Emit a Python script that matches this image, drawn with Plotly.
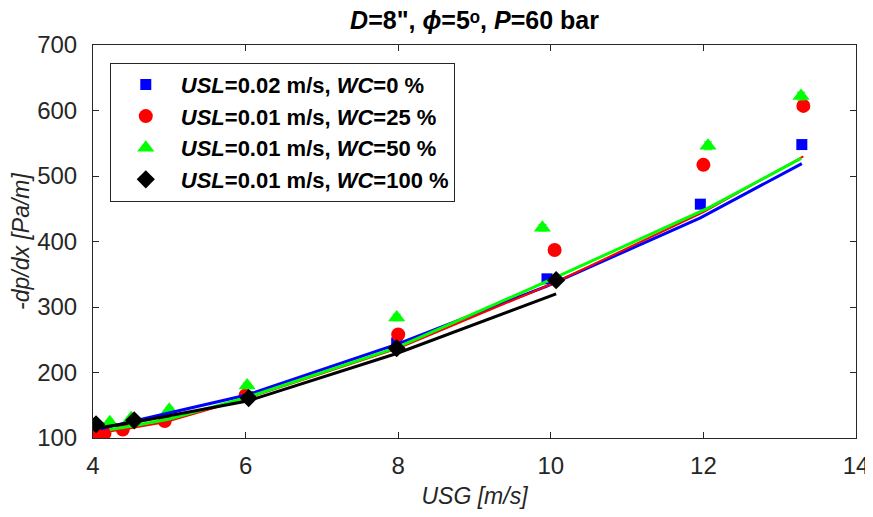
import plotly.graph_objects as go

# Measured data (markers)
usg_wc0 = [4.10, 6.03, 7.98, 9.95, 11.96, 13.29]
dpdx_wc0 = [115, 163, 245, 343, 457, 548]
err_wc0 = [4, 4, 5, 5, 6, 6]

usg_wc25 = [4.02, 4.15, 4.39, 4.94, 6.00, 8.00, 10.05, 12.00, 13.31]
dpdx_wc25 = [107, 107, 113, 126, 165, 258, 387, 517, 607]
err_wc25 = [3, 3, 3, 3, 4, 5, 5, 6, 6]

usg_wc50 = [4.22, 4.50, 5.00, 6.02, 7.98, 9.89, 12.06, 13.28]
dpdx_wc50 = [124, 130, 143, 180, 284, 421, 546, 622]
err_wc50 = [3, 3, 3, 4, 5, 5, 6, 6]

usg_wc100 = [4.04, 4.54, 6.04, 7.98, 10.07]
dpdx_wc100 = [121, 127, 161, 237, 341]
err_wc100 = [3, 3, 4, 5, 5]

# Model predictions (lines)
line_x_wc0 = [4.10, 6.03, 7.98, 9.95, 11.96, 13.29]
line_y_wc0 = [114, 166, 243, 332, 436, 519]
line_x_wc25 = [4.02, 4.15, 4.39, 4.94, 6.00, 8.00, 10.05, 12.00, 13.31]
line_y_wc25 = [107, 109, 113, 124, 160, 237, 337, 445, 530]
line_x_wc50 = [4.22, 4.50, 5.00, 6.02, 7.98, 9.89, 12.06, 13.28]
line_y_wc50 = [113, 118, 129, 162, 238, 336, 451, 527]
line_x_wc100 = [4.04, 4.54, 6.04, 7.98, 10.07]
line_y_wc100 = [115, 124, 157, 229, 320]

names = [
    "<b><i>USL</i>=0.02 m/s, <i>WC</i>=0 %</b>",
    "<b><i>USL</i>=0.01 m/s, <i>WC</i>=25 %</b>",
    "<b><i>USL</i>=0.01 m/s, <i>WC</i>=50 %</b>",
    "<b><i>USL</i>=0.01 m/s, <i>WC</i>=100 %</b>",
]
colors = ["#0000FF", "#FF0000", "#00FF00", "#000000"]
symbols = ["square", "circle", "triangle-up", "diamond"]
sizes = [11, 14, 15, 14]

mx = [usg_wc0, usg_wc25, usg_wc50, usg_wc100]
my = [dpdx_wc0, dpdx_wc25, dpdx_wc50, dpdx_wc100]
me = [err_wc0, err_wc25, err_wc50, err_wc100]
lx = [line_x_wc0, line_x_wc25, line_x_wc50, line_x_wc100]
ly = [line_y_wc0, line_y_wc25, line_y_wc50, line_y_wc100]
lw = [3, 2, 3, 3]

fig = go.Figure()

def add_markers(i):
    fig.add_trace(go.Scatter(
        x=mx[i], y=my[i], mode="markers", name=names[i],
        legendgroup=f"g{i}", legendrank=i + 1,
        marker=dict(symbol=symbols[i], size=sizes[i], color=colors[i],
                    line=dict(width=0)),
        error_y=dict(type="data", array=me[i], visible=True,
                     color=colors[i], thickness=1, width=4),
    ))

for i in range(3):
    add_markers(i)
for i in range(4):
    fig.add_trace(go.Scatter(
        x=lx[i], y=ly[i], mode="lines", showlegend=False,
        line=dict(color=colors[i], width=lw[i]),
    ))
add_markers(3)

axis_color = "#262626"
# the page body adds an 8 px offset, so the figure is 8 px smaller
fig.update_layout(
    width=865, height=509,
    margin=dict(l=85, r=17, t=37, b=79),
    plot_bgcolor="white", paper_bgcolor="white",
    font=dict(family="Liberation Sans, Arial", color=axis_color),
    title=dict(
        text="<b><i>D</i>=8\", <i>\u03d5</i>=5\u1d52, <i>P</i>=60 bar</b>",
        x=(85 + 848) / 2 / 865, xanchor="center",
        y=1.0, yanchor="top", pad=dict(t=3, b=0),
        font=dict(size=25, color="#000000"),
    ),
    legend=dict(
        x=0.022, y=0.955, xanchor="left", yanchor="top",
        bgcolor="white", bordercolor=axis_color, borderwidth=1,
        font=dict(size=22, color="#000000"),
        tracegroupgap=0,
        itemwidth=60,
    ),
    showlegend=True,
)
fig.update_xaxes(
    range=[4, 14], tickvals=[4, 6, 8, 10, 12, 14],
    showgrid=False, zeroline=False, automargin=False,
    showline=True, linecolor=axis_color, linewidth=1, mirror="ticks",
    ticks="inside", ticklen=6, tickcolor=axis_color,
    ticklabelstandoff=6,
    tickfont=dict(size=24, color=axis_color),
    title=dict(text="<i>USG [m/s]</i>", font=dict(size=23, color=axis_color), standoff=10),
)
fig.update_yaxes(
    range=[100, 700], tickvals=[100, 200, 300, 400, 500, 600, 700],
    showgrid=False, zeroline=False, automargin=False,
    showline=True, linecolor=axis_color, linewidth=1, mirror="ticks",
    ticks="inside", ticklen=6, tickcolor=axis_color,
    ticklabelstandoff=10,
    tickfont=dict(size=24, color=axis_color),
    title=dict(text="<i>-dp/dx [Pa/m]</i>", font=dict(size=23, color=axis_color), standoff=4),
)

fig.write_html("out.html")
